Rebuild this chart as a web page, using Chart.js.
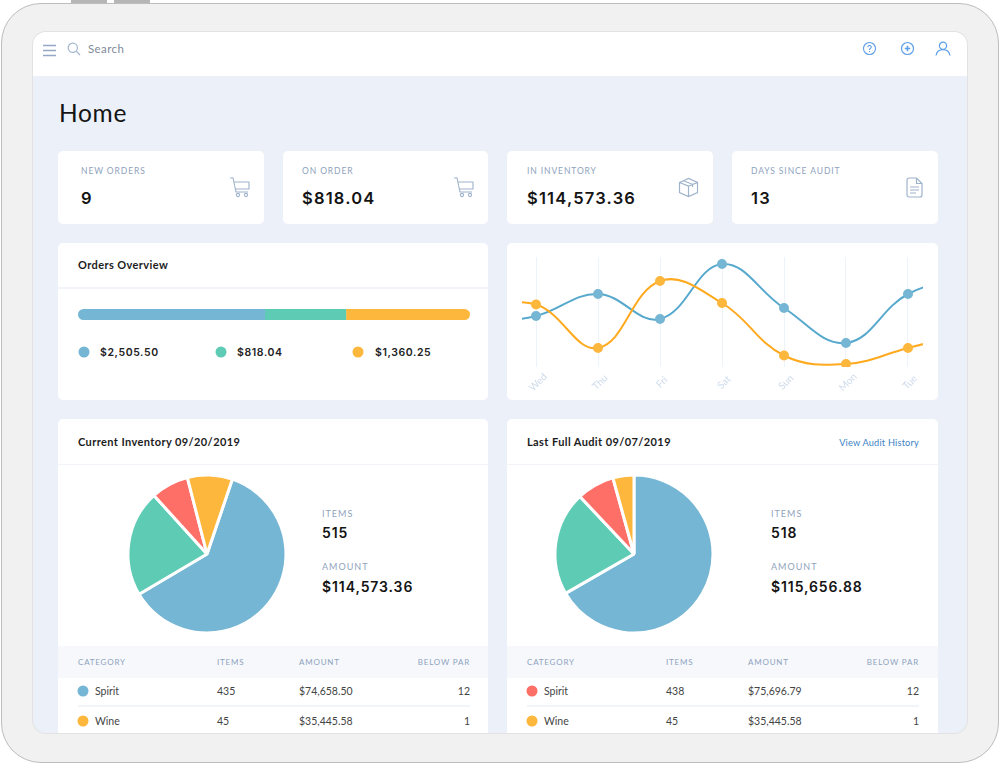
<!DOCTYPE html>
<html lang="en">
<head>
<meta charset="UTF-8">
<title>Home</title>
<script src="https://cdn.jsdelivr.net/npm/chart.js@4.4.8/dist/chart.umd.min.js"></script>
<style>
    html, body { margin: 0; padding: 0; background: #fff; overflow: hidden; }
    body { width: 1000px; height: 764px; position: relative; font-family: Lato, sans-serif; }
    .btn { position: absolute; top: 0; width: 36px; height: 4px; background: #b6b6b6; }
    #device { position: absolute; left: 1px; top: 3px; width: 996px; height: 758px; background: #f1f1f1; border: 1.5px solid #bdbdbd; border-radius: 40px; }
    #screen { position: absolute; left: 33px; top: 32px; width: 934px; height: 701px; background: #ecf0f8; border-radius: 13px; overflow: hidden; box-shadow: 0 0 0 1px #e2e2e2; }
    #topbar { position: absolute; left: 0; top: 0; width: 934px; height: 44px; background: #fff; }
    /* everything inside screen is placed in page coordinates through this wrapper */
    #page { position: absolute; left: -33px; top: -32px; width: 1000px; height: 764px; }
    .card { position: absolute; background: #fff; border-radius: 5px; }
    .t { position: absolute; line-height: 1; white-space: nowrap; transform: translateY(-50%); }
    .lab { font-size: 8.5px; letter-spacing: .9px; color: #8fa3bd; }
    .sum { font-size: 9px; letter-spacing: 1px; }
    .tiny { font-size: 8px; letter-spacing: .8px; }
    .big { font-size: 16.5px; font-weight: 600; letter-spacing: 1.2px; color: #141414; font-family: Inter, sans-serif; }
    .head { font-size: 11px; font-weight: 700; letter-spacing: .4px; color: #1c1c1c; }
    .leg { font-size: 10.5px; font-weight: 600; letter-spacing: .6px; color: #222; font-family: Inter, sans-serif; }
    .num { font-size: 14px; font-weight: 600; letter-spacing: .9px; color: #141414; font-family: Inter, sans-serif; }
    .cell { font-size: 10.5px; color: #444; }
    .r { transform: translate(-100%, -50%); }
    .dot { position: absolute; width: 11px; height: 11px; border-radius: 50%; transform: translate(-50%, -50%); }
    .line { position: absolute; height: 1.5px; background: #f1f4f9; }
    .band { position: absolute; height: 32px; background: #f6f8fc; }
    canvas { position: absolute; }
    svg { position: absolute; fill: none; }
</style>
</head>
<body>
<div class="btn" style="left:71px"></div>
<div class="btn" style="left:114px"></div>
<div id="device"></div>
<div id="screen">
    <div id="topbar"></div>
    <div id="page">
        <svg style="left:42px;top:44px" width="15" height="13" stroke="#94a9c6" stroke-width="1.4"><path d="M1 1.5H14M1 6.5H14M1 11.5H14"/></svg>
        <svg style="left:67px;top:42px" width="14" height="14" stroke="#a3b6cf" stroke-width="1.2"><circle cx="5.8" cy="5.8" r="4.6"/><path d="M9.2 9.2L13 13"/></svg>
        <div class="t" style="left:88px;top:49px;font-size:11.5px;letter-spacing:.4px;color:#7f8a99">Search</div>
        <svg style="left:862px;top:41px" width="15" height="15" stroke="#5c9ee8" stroke-width="1.1"><circle cx="7.5" cy="7.5" r="6"/><path d="M5.8 6.2C5.8 3.9 9.3 3.9 9.3 6C9.3 7.3 7.5 7.3 7.5 8.9M7.5 10V11"/></svg>
        <svg style="left:900px;top:41px" width="15" height="15" stroke="#5c9ee8" stroke-width="1.2"><circle cx="7.5" cy="7.5" r="6"/><path d="M4.8 7.5H10.2M7.5 4.8V10.2" stroke-width="1.6"/></svg>
        <svg style="left:935px;top:41px" width="16" height="15" stroke="#5c9ee8" stroke-width="1.2"><circle cx="8" cy="4.8" r="3.6"/><path d="M1 14.5C1.8 10.4 4.5 8.6 8 8.6C11.5 8.6 14.2 10.4 15 14.5"/></svg>

        <div class="t" style="left:59px;top:112.5px;font-size:24.5px;letter-spacing:.7px;color:#141414">Home</div>

        <div class="card" style="left:58px;top:151px;width:206px;height:73px"></div>
        <div class="card" style="left:283px;top:151px;width:205px;height:73px"></div>
        <div class="card" style="left:507px;top:151px;width:206px;height:73px"></div>
        <div class="card" style="left:732px;top:151px;width:206px;height:73px"></div>
        <div class="t lab" style="left:81px;top:171px">NEW ORDERS</div>
        <div class="t big" style="left:81px;top:197.5px">9</div>
        <div class="t lab" style="left:302px;top:171px">ON ORDER</div>
        <div class="t big" style="left:302px;top:197.5px">$818.04</div>
        <div class="t lab" style="left:527px;top:171px">IN INVENTORY</div>
        <div class="t big" style="left:527px;top:197.5px">$114,573.36</div>
        <div class="t lab" style="left:751px;top:171px">DAYS SINCE AUDIT</div>
        <div class="t big" style="left:751px;top:197.5px">13</div>
        <svg style="left:229px;top:177px" width="22" height="21" stroke="#9fb3cb" stroke-width="1.1"><path d="M1 1H4L7 15H19M5 5H20V12H6.5"/><circle cx="9" cy="18" r="1.6"/><circle cx="17" cy="18" r="1.6"/></svg>
        <svg style="left:453px;top:177px" width="22" height="21" stroke="#9fb3cb" stroke-width="1.1"><path d="M1 1H4L7 15H19M5 5H20V12H6.5"/><circle cx="9" cy="18" r="1.6"/><circle cx="17" cy="18" r="1.6"/></svg>
        <svg style="left:678px;top:177px" width="21" height="21" stroke="#9fb3cb" stroke-width="1.2"><path d="M1.5 5.5L10.5 1.5L19.5 5.5V15.5L10.5 19.5L1.5 15.5ZM1.5 5.5L10.5 9L19.5 5.5M10.5 9V19.5M5.5 3.7L14.5 7.3V10"/></svg>
        <svg style="left:906px;top:177px" width="17" height="21" stroke="#9fb3cb" stroke-width="1.2"><path d="M3 1H10.5L16 6.5V18A2 2 0 0 1 14 20H3A2 2 0 0 1 1 18V3A2 2 0 0 1 3 1ZM10.5 1V6.5H16M4 10H13M4 13H13M4 16H10"/></svg>

        <div class="card" style="left:58px;top:243px;width:430px;height:157px"></div>
        <div class="t head" style="left:78px;top:264px">Orders Overview</div>
        <div class="line" style="left:58px;top:287px;width:430px"></div>
        <canvas id="ordersBar" style="left:78px;top:309px"></canvas>
        <div class="dot" style="left:83.5px;top:352px;background:#75b6d4"></div>
        <div class="t leg" style="left:100px;top:352.5px" id="orders0"></div>
        <div class="dot" style="left:220.5px;top:352px;background:#5ecbb4"></div>
        <div class="t leg" style="left:237px;top:352.5px" id="orders1"></div>
        <div class="dot" style="left:357.5px;top:352px;background:#fdb73c"></div>
        <div class="t leg" style="left:375px;top:352.5px" id="orders2"></div>

        <div class="card" style="left:507px;top:243px;width:431px;height:157px"></div>
        <canvas id="weekLine" style="left:507px;top:243px"></canvas>

        <div class="card" style="left:58px;top:419px;width:430px;height:330px"></div>
        <div class="t head" style="left:78px;top:441px">Current Inventory 09/20/2019</div>
        <div class="line" style="left:58px;top:463.5px;width:430px"></div>
        <canvas id="currentPie" style="left:117px;top:464px"></canvas>
        <div class="t lab sum" style="left:322px;top:513px">ITEMS</div>
        <div class="t num" style="left:322px;top:533px">515</div>
        <div class="t lab sum" style="left:322px;top:566px">AMOUNT</div>
        <div class="t num" style="left:322px;top:587px">$114,573.36</div>
        <div class="band" style="left:58px;top:646px;width:430px"></div>
        <div class="t lab tiny" style="left:78px;top:662px">CATEGORY</div>
        <div class="t lab tiny" style="left:217px;top:662px">ITEMS</div>
        <div class="t lab tiny" style="left:299px;top:662px">AMOUNT</div>
        <div class="t lab tiny r" style="left:470px;top:662px">BELOW PAR</div>
        <div class="dot" style="left:83px;top:691px;background:#75b6d4"></div>
        <div class="t cell" style="left:95px;top:691px">Spirit</div>
        <div class="t cell" style="left:217px;top:691px">435</div>
        <div class="t cell" style="left:299px;top:691px">$74,658.50</div>
        <div class="t cell r" style="left:470px;top:691px">12</div>
        <div class="line" style="left:78px;top:705px;width:392px"></div>
        <div class="dot" style="left:83px;top:721px;background:#fdb73c"></div>
        <div class="t cell" style="left:95px;top:721px">Wine</div>
        <div class="t cell" style="left:217px;top:721px">45</div>
        <div class="t cell" style="left:299px;top:721px">$35,445.58</div>
        <div class="t cell r" style="left:470px;top:721px">1</div>

        <div class="card" style="left:507px;top:419px;width:431px;height:330px"></div>
        <div class="t head" style="left:527px;top:441px">Last Full Audit 09/07/2019</div>
        <div class="t r" style="left:919px;top:442.5px;font-size:9.2px;letter-spacing:.2px;color:#3b82c4">View Audit History</div>
        <div class="line" style="left:507px;top:463.5px;width:431px"></div>
        <canvas id="auditPie" style="left:544px;top:464px"></canvas>
        <div class="t lab sum" style="left:771px;top:513px">ITEMS</div>
        <div class="t num" style="left:771px;top:533px">518</div>
        <div class="t lab sum" style="left:771px;top:566px">AMOUNT</div>
        <div class="t num" style="left:771px;top:587px">$115,656.88</div>
        <div class="band" style="left:507px;top:646px;width:431px"></div>
        <div class="t lab tiny" style="left:527px;top:662px">CATEGORY</div>
        <div class="t lab tiny" style="left:666px;top:662px">ITEMS</div>
        <div class="t lab tiny" style="left:748px;top:662px">AMOUNT</div>
        <div class="t lab tiny r" style="left:919px;top:662px">BELOW PAR</div>
        <div class="dot" style="left:532px;top:691px;background:#fe6f67"></div>
        <div class="t cell" style="left:544px;top:691px">Spirit</div>
        <div class="t cell" style="left:666px;top:691px">438</div>
        <div class="t cell" style="left:748px;top:691px">$75,696.79</div>
        <div class="t cell r" style="left:919px;top:691px">12</div>
        <div class="line" style="left:527px;top:705px;width:392px"></div>
        <div class="dot" style="left:532px;top:721px;background:#fdb73c"></div>
        <div class="t cell" style="left:544px;top:721px">Wine</div>
        <div class="t cell" style="left:666px;top:721px">45</div>
        <div class="t cell" style="left:748px;top:721px">$35,445.58</div>
        <div class="t cell r" style="left:919px;top:721px">1</div>
    </div>
</div>

<script>
    // values
    const orderLabels = ['$2,505.50', '$818.04', '$1,360.25'];
    const orderShares = [47.7, 20.7, 31.6]; // drawn widths, % of the bar

    const days = ['Wed', 'Thu', 'Fri', 'Sat', 'Sun', 'Mon', 'Tue'];
    const dayPositions = [-1, 0, 1, 2, 3, 4, 5, 6, 7]; // first and last run off the edge of the plot
    const blueValues = [43, 51, 73, 48, 103, 59, 24, 73, 90];
    const orangeValues = [57, 62.5, 19, 86, 64, 11.5, 3, 19, 35];

    const pieCategories = ['Spirit', 'Wine', 'Beer', 'Other'];
    const currentShares = [61.3, 21.8, 7.7, 9.2];
    const auditShares = [66.7, 21.3, 7.7, 4.3];

    const blue = '#75b6d4';
    const green = '#5ecbb4';
    const red = '#fe6f67';
    const orange = '#fdb73c';

    Chart.defaults.animation = false;
    Chart.defaults.responsive = false;
    Chart.defaults.plugins.legend.display = false;
    Chart.defaults.plugins.tooltip.enabled = false;

    function sizeCanvas(id, w, h) {
        const c = document.getElementById(id);
        c.width = w;
        c.height = h;
        return c;
    }

    orderLabels.forEach((txt, i) => {
        document.getElementById('orders' + i).textContent = txt;
    });

    // stacked bar
    const barColors = [blue, green, orange];
    const barRadius = [
        {topLeft: 5.5, bottomLeft: 5.5, topRight: 0, bottomRight: 0},
        0,
        {topLeft: 0, bottomLeft: 0, topRight: 5.5, bottomRight: 5.5}
    ];
    new Chart(sizeCanvas('ordersBar', 392, 11), {
        type: 'bar',
        data: {
            labels: ['Orders'],
            datasets: orderShares.map((v, i) => ({
                label: orderLabels[i],
                data: [v],
                backgroundColor: barColors[i],
                borderWidth: 0,
                borderSkipped: false,
                borderRadius: barRadius[i],
                inflateAmount: 0,
                categoryPercentage: 1,
                barPercentage: 1
            }))
        },
        options: {
            indexAxis: 'y',
            scales: {
                x: {stacked: true, display: false, min: 0, max: 100},
                y: {stacked: true, display: false}
            }
        }
    });

    // week lines
    function lineSet(label, values, lineColor, pointColor) {
        return {
            label: label,
            data: dayPositions.map((x, i) => ({x: x, y: values[i]})),
            borderColor: lineColor,
            borderWidth: 2,
            tension: 0.4,
            pointBackgroundColor: pointColor,
            pointBorderColor: pointColor,
            pointRadius: ctx => (ctx.dataIndex === 0 || ctx.dataIndex === dayPositions.length - 1) ? 0 : 4
        };
    }
    new Chart(sizeCanvas('weekLine', 431, 157), {
        type: 'line',
        data: {
            datasets: [
                lineSet('Orange', orangeValues, '#ffa91f', orange),
                lineSet('Blue', blueValues, '#56a8cc', blue)
            ]
        },
        options: {
            layout: {padding: {left: 15, right: 15, top: 14, bottom: 0}},
            scales: {
                x: {
                    type: 'linear',
                    min: -0.226,
                    max: 6.242,
                    // rotated labels sit centred on their gridline, not hung from their end
                    beforeUpdate: scale => { scale._getXAxisLabelAlignment = () => 'center'; },
                    afterFit: scale => { scale.height = 33; },
                    border: {display: false},
                    grid: {color: '#eef3fa', drawTicks: false},
                    ticks: {
                        stepSize: 1,
                        includeBounds: false,
                        autoSkip: false,
                        minRotation: 45,
                        maxRotation: 45,
                        padding: 11,
                        labelOffset: 2,
                        color: '#cfdbec',
                        font: {family: 'Lato', size: 10},
                        callback: v => days[v]
                    }
                },
                y: {display: false, min: 0, max: 110}
            }
        }
    });

    // pies
    function pie(id, shares, rotation, colors) {
        new Chart(sizeCanvas(id, 180, 180), {
            type: 'pie',
            data: {
                labels: pieCategories,
                datasets: [{
                    data: shares,
                    backgroundColor: colors,
                    borderColor: '#fff',
                    borderWidth: 3,
                    radius: 79
                }]
            },
            options: {rotation: rotation}
        });
    }
    pie('currentPie', currentShares, 18.7, [blue, green, red, orange]);
    pie('auditPie', auditShares, 0, [blue, green, red, orange]);
</script>
</body>
</html>
